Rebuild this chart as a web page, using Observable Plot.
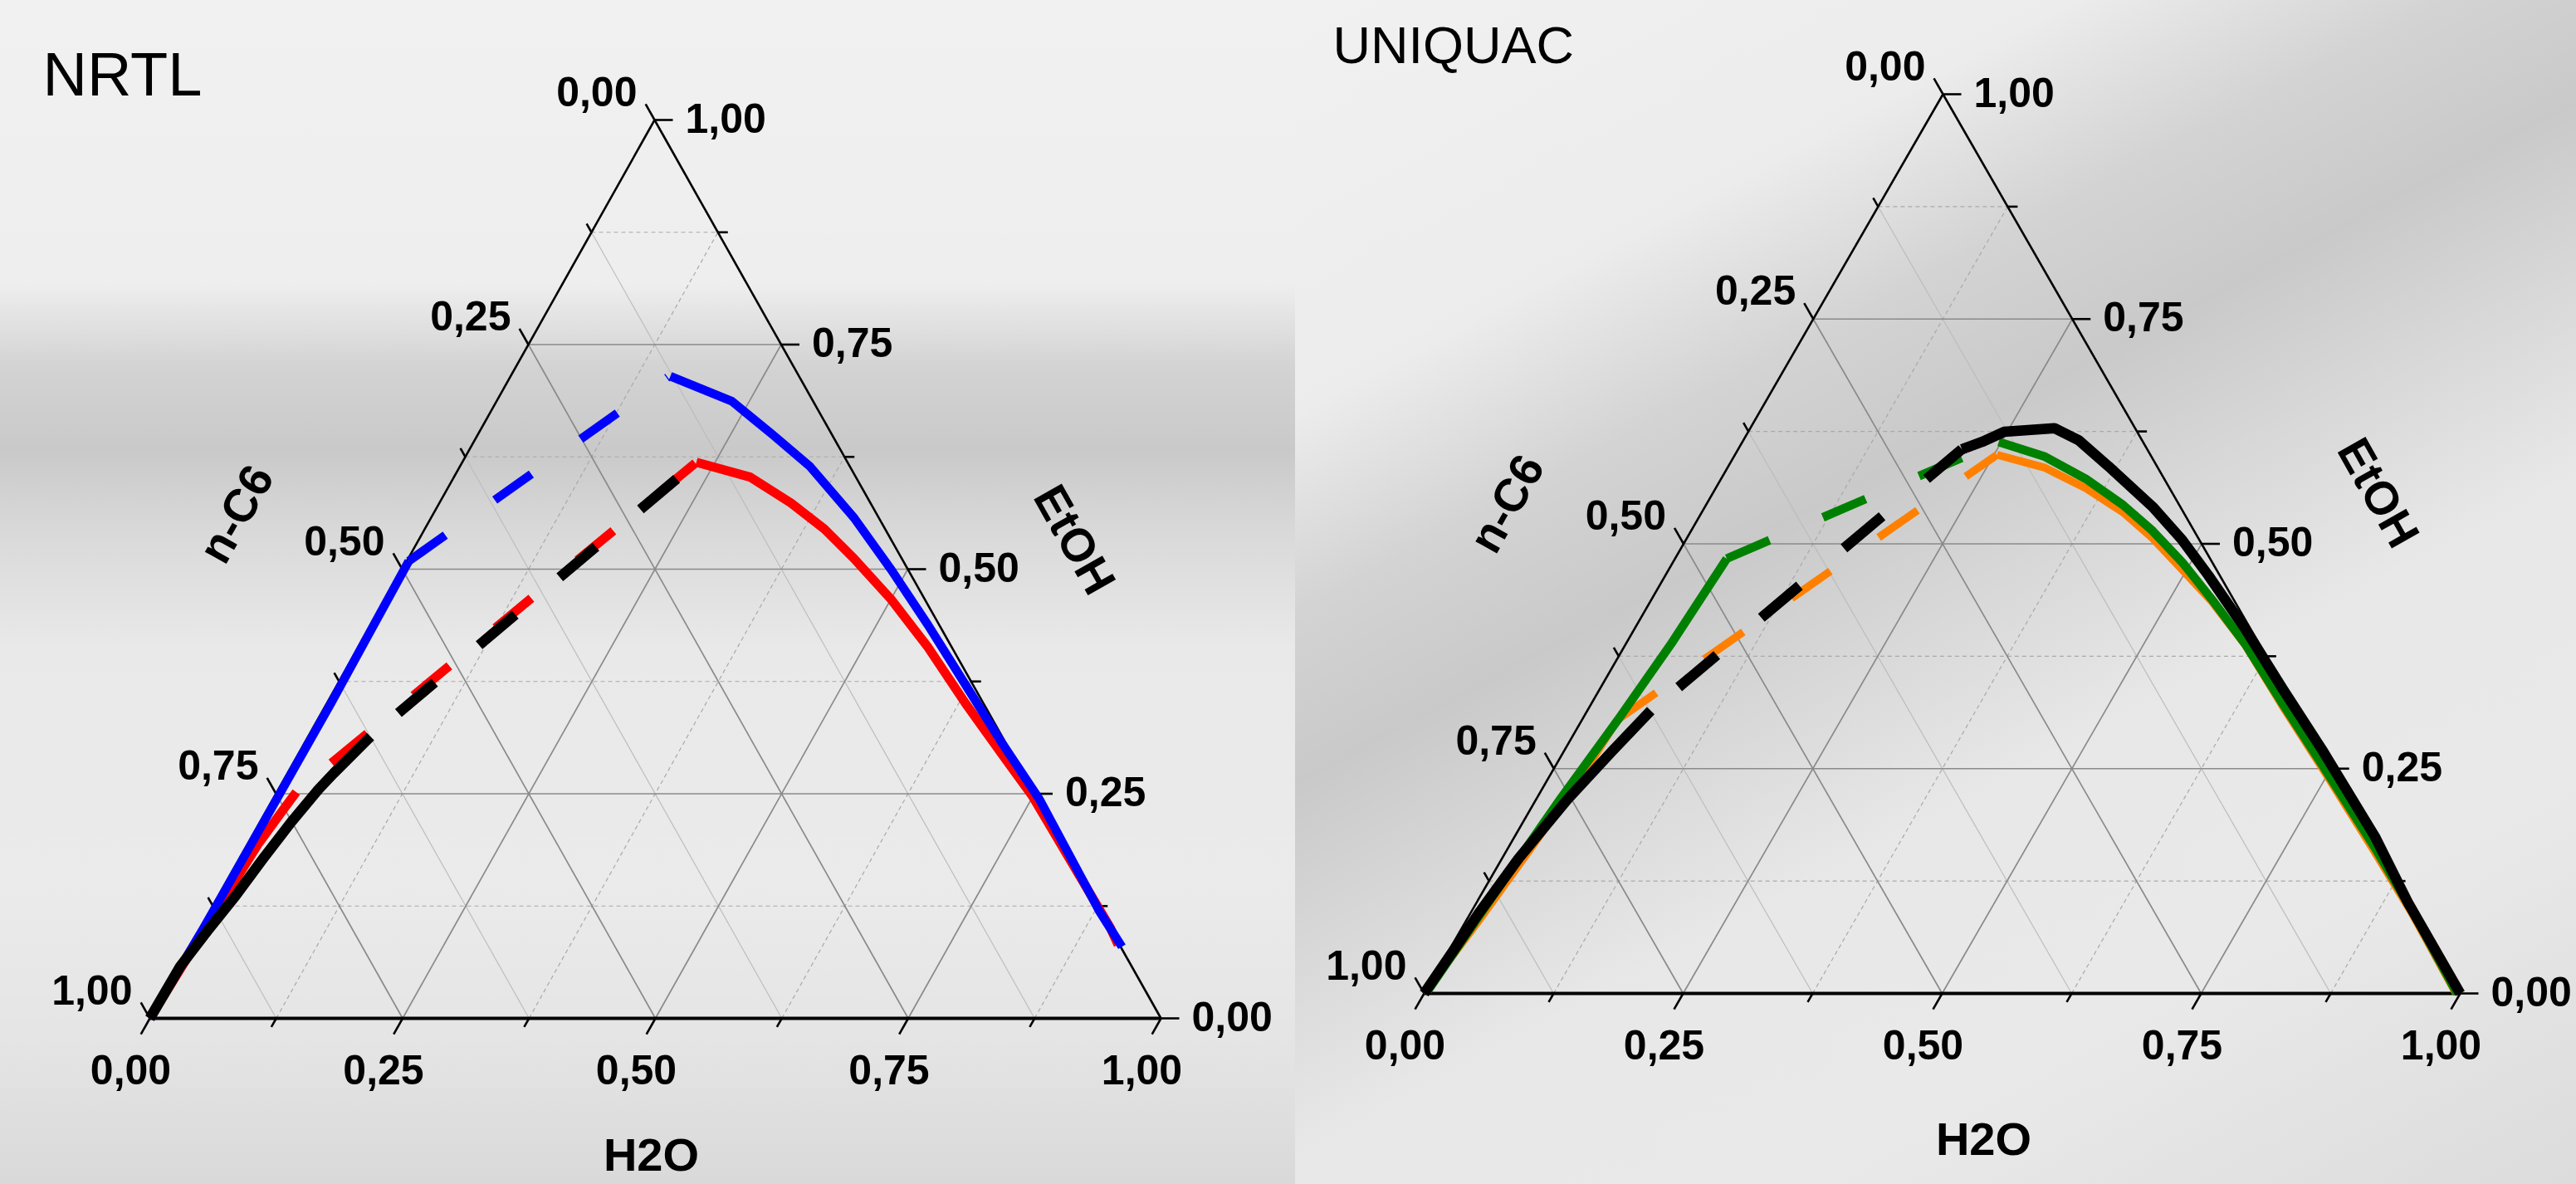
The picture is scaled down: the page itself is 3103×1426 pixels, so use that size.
<!DOCTYPE html>
<html>
<head>
<meta charset="utf-8">
<script src="https://cdn.jsdelivr.net/npm/d3@7"></script>
<script src="https://cdn.jsdelivr.net/npm/@observablehq/plot@0.6"></script>
<style>
html, body { margin: 0; padding: 0; width: 3103px; height: 1426px; overflow: hidden; }
body { position: relative; background: #e0e0e0; font-family: "Liberation Sans", Arial, sans-serif; }
.bg { position: absolute; pointer-events: none; }
#bgL { left: 0; top: 0; width: 1560px; height: 1426px;
  background: linear-gradient(to bottom, rgba(255,255,255,0.55) 0%, rgba(255,255,255,0.45) 24%, rgba(0,0,0,0.06) 31%, rgba(0,0,0,0.10) 38%, rgba(0,0,0,0.03) 45%, rgba(255,255,255,0.30) 55%, rgba(255,255,255,0.35) 75%, rgba(255,255,255,0.15) 88%, rgba(0,0,0,0.03) 100%); }
#bgR { left: 1560px; top: 0; width: 1543px; height: 1426px;
  background: linear-gradient(152deg, rgba(255,255,255,0.55) 0%, rgba(255,255,255,0.40) 22%, rgba(0,0,0,0.06) 33%, rgba(0,0,0,0.10) 42%, rgba(0,0,0,0.03) 52%, rgba(255,255,255,0.25) 62%, rgba(255,255,255,0.30) 78%, rgba(0,0,0,0.02) 100%); }
#left { position: absolute; left: 0; top: 0; }
#right { position: absolute; left: 1550px; top: 0; }
svg { overflow: visible; }
</style>
</head>
<body>
<div class="bg" id="bgL"></div>
<div class="bg" id="bgR"></div>
<div id="left"></div>
<div id="right"></div>
<script>
// ---------- axis values ----------
const TICKS = [0, 0.25, 0.5, 0.75, 1];
const MINOR_TICKS = [0.125, 0.375, 0.625, 0.875];
const MAJOR_GRID = [0.25, 0.5, 0.75];
const TICK_LABELS = ["0,00", "0,25", "0,50", "0,75", "1,00"];

// ---------- data: [H2O fraction, EtOH fraction]; n-C6 = 1 - H2O - EtOH ----------
// NRTL panel
const nrtlRedA = [[0, 0], [0.006, 0.12], [0.0102, 0.1934], [0.0152, 0.2274], [0.0191, 0.2518]];
const nrtlRedDash = [[0.0191, 0.2518], [0.2315, 0.619]];
const nrtlRedB = [[0.2315, 0.619], [0.293, 0.6025], [0.3478, 0.5736], [0.3952, 0.5447], [0.4411, 0.5117], [0.5003, 0.4664], [0.5638, 0.4127], [0.6315, 0.3508], [0.697, 0.2931], [0.749, 0.2477], [0.8994, 0.101], [0.9168, 0.0818]];
const nrtlBlueA = [[0, 0], [0.003, 0.1], [0.0035, 0.218], [0.004, 0.35], [0.002, 0.509]];
const nrtlBlueDash = [[0.002, 0.509], [0.156, 0.7135]];
const nrtlBlueB = [[0.158, 0.7147], [0.2324, 0.6871], [0.2913, 0.6499], [0.3454, 0.6149], [0.4184, 0.5571], [0.4839, 0.4994], [0.5515, 0.4374], [0.6212, 0.3714], [0.6908, 0.3055], [0.7584, 0.2435], [0.879, 0.1198], [0.9216, 0.0797]];
const nrtlBlackA = [[0, 0], [0.0012, 0.058], [0.0085, 0.098], [0.0167, 0.1365], [0.0233, 0.1781], [0.0307, 0.2181], [0.0396, 0.2551], [0.0455, 0.2724], [0.0616, 0.3137]];
const nrtlBlackDash = [[0.0616, 0.3137], [0.2219, 0.6017]];

// UNIQUAC panel
const uniOrangeA = [[0, 0], [0.012, 0.08], [0.022, 0.16], [0.0316, 0.2486], [0.0341, 0.3042]];
const uniOrangeDash = [[0.0341, 0.3042], [0.2529, 0.599]];
const uniOrangeB = [[0.2529, 0.599], [0.3066, 0.5846], [0.3573, 0.5619], [0.4066, 0.5351], [0.4496, 0.5062], [0.4958, 0.4712], [0.5421, 0.4358], [0.5985, 0.3875], [0.667, 0.321], [0.741, 0.251], [0.836, 0.16], [0.907, 0.091], [0.996, 0.0]];
const uniGreenA = [[0.002, 0.003], [0.01, 0.0886], [0.0231, 0.2156], [0.0349, 0.3063], [0.0437, 0.3887], [0.0499, 0.4836]];
const uniGreenDash = [[0.0499, 0.4836], [0.2474, 0.6134]];
const uniGreenB = [[0.2474, 0.6134], [0.3004, 0.5969], [0.3522, 0.5722], [0.4024, 0.5433], [0.4454, 0.5145], [0.4917, 0.4794], [0.5409, 0.4382], [0.5978, 0.3887], [0.6667, 0.3228], [0.7412, 0.2527], [0.8366, 0.162], [0.9075, 0.092], [0.997, 0.0]];
const uniBlackA = [[0, 0], [0.008, 0.0886], [0.016, 0.15], [0.0302, 0.2156], [0.0464, 0.2692], [0.0612, 0.3145]];
const uniBlackDash = [[0.0612, 0.3145], [0.2159, 0.6052]];
const uniBlackB = [[0.2159, 0.6052], [0.2313, 0.6134], [0.2472, 0.6246], [0.2935, 0.6286], [0.3234, 0.6154], [0.3664, 0.5866], [0.432, 0.5413], [0.4792, 0.5042], [0.524, 0.465], [0.5896, 0.4053], [0.6585, 0.3392], [0.7329, 0.2692], [0.8304, 0.1744], [0.8998, 0.1002], [1.0, 0.0]];

const FONT = "Liberation Sans, Arial, sans-serif";

function makePanel(o) {
  const a = o.apex, sx = o.sx, sy = o.sy;
  const X = d => d[0] + d[1] * a;
  const Y = d => d[1];
  const La = Math.hypot(a * sx, sy);
  const Lb = Math.hypot((1 - a) * sx, sy);

  const seg = (fam, v) => {
    if (fam === "e") return [[0, v], [1 - v, v]];
    if (fam === "w") return [[v, 0], [v, 1 - v]];
    return [[1 - v, 0], [0, 1 - v]];
  };
  const toLink = s => ({x1: X(s[0]), y1: Y(s[0]), x2: X(s[1]), y2: Y(s[1])});
  const minorDashed = [], minorSolid = [], major = [];
  for (const v of MINOR_TICKS) {
    minorDashed.push(toLink(seg("e", v)), toLink(seg("w", v)));
    minorSolid.push(toLink(seg("n", v)));
  }
  for (const v of MAJOR_GRID) for (const f of ["e", "w", "n"]) major.push(toLink(seg(f, v)));
  const sides = [toLink([[0, 0], [0, 1]]), toLink([[1, 0], [0, 1]])];
  const bottom = [toLink([[0, 0], [1, 0]])];

  const ticks = [];
  const addTicks = (vals, len) => {
    for (const v of vals) {
      ticks.push({x1: v, y1: 0, x2: v - len * a / La, y2: -len / La});
      const e = 1 - v;
      ticks.push({x1: e * a, y1: e, x2: e * a - len * (1 - a) / Lb, y2: e + len / Lb});
      const xr = 1 - v + v * a;
      ticks.push({x1: xr, y1: v, x2: xr + len / sx, y2: v});
    }
  };
  addTicks(TICKS, 22);
  addTicks(MINOR_TICKS, 12);

  const bottomLabels = TICKS.map((v, i) => ({x: v, y: 0, t: TICK_LABELS[i]}));
  const leftLabels = TICKS.map((v, i) => ({x: (1 - v) * a, y: 1 - v, t: TICK_LABELS[i]}));
  const rightLabels = TICKS.map((v, i) => ({x: 1 - v + v * a, y: v, t: TICK_LABELS[i]}));

  const marks = [
    Plot.link(minorSolid, {x1: "x1", y1: "y1", x2: "x2", y2: "y2", stroke: "#bdbdbd", strokeWidth: 1.2}),
    Plot.link(minorDashed, {x1: "x1", y1: "y1", x2: "x2", y2: "y2", stroke: "#a9a9a9", strokeWidth: 1.2, strokeDasharray: "5,4"}),
    Plot.link(major, {x1: "x1", y1: "y1", x2: "x2", y2: "y2", stroke: "#8a8a8a", strokeWidth: 1.7}),
    Plot.link(sides, {x1: "x1", y1: "y1", x2: "x2", y2: "y2", stroke: "#000", strokeWidth: 2.6}),
    Plot.link(bottom, {x1: "x1", y1: "y1", x2: "x2", y2: "y2", stroke: "#000", strokeWidth: 4}),
    Plot.link(ticks, {x1: "x1", y1: "y1", x2: "x2", y2: "y2", stroke: "#000", strokeWidth: 2.6})
  ];

  for (const s of o.series) {
    marks.push(Plot.line(s.data, {
      x: X, y: Y, stroke: s.color, strokeWidth: s.width,
      strokeLinecap: "butt", strokeLinejoin: s.dash ? "miter" : "round",
      strokeDasharray: s.dash || null, strokeDashoffset: s.offset || 0, curve: "linear"
    }));
  }

  const lab = {fontFamily: FONT, fontWeight: "bold", fontSize: 50, fill: "#000", lineAnchor: "middle"};
  marks.push(
    Plot.text(bottomLabels, {x: "x", y: "y", text: "t", dx: -23, dy: 63, textAnchor: "middle", ...lab}),
    Plot.text(leftLabels, {x: "x", y: "y", text: "t", dx: -21, dy: -33, textAnchor: "end", ...lab}),
    Plot.text(rightLabels, {x: "x", y: "y", text: "t", dx: 37, dy: -1, textAnchor: "start", ...lab})
  );

  const ax = {fontFamily: FONT, fontWeight: "bold", fontSize: 56, fill: "#000", lineAnchor: "middle", textAnchor: "middle"};
  marks.push(
    Plot.text([{x: 0.5 * a, y: 0.5}], {x: "x", y: "y", text: () => "n-C6", dx: o.nc6[0], dy: o.nc6[1], rotate: -60.7, ...ax}),
    Plot.text([{x: 0.5 + 0.5 * a, y: 0.5}], {x: "x", y: "y", text: () => "EtOH", dx: o.etoh[0], dy: o.etoh[1], rotate: 60.6, ...ax}),
    Plot.text([{x: 0.5, y: 0}], {x: "x", y: "y", text: () => "H2O", dx: o.h2o[0], dy: o.h2o[1], ...ax}),
    Plot.text([{x: a, y: 1}], {x: "x", y: "y", text: () => o.title, dx: o.titlePos[0], dy: o.titlePos[1],
      fontFamily: FONT, fontWeight: "normal", fontSize: o.titleSize, fill: "#000", lineAnchor: "middle", textAnchor: "start"})
  );

  return Plot.plot({
    width: o.width, height: o.height,
    marginLeft: o.mL, marginRight: o.mR, marginTop: o.mT, marginBottom: o.mB,
    x: {domain: [0, 1], axis: null},
    y: {domain: [0, 1], axis: null},
    style: {background: "transparent", overflow: "visible"},
    marks
  });
}

const nrtlPanel = makePanel({
  width: 1550, height: 1426, mL: 180, mR: 152, mT: 144, mB: 200,
  apex: 608 / 1218, sx: 1218, sy: 1082,
  title: "NRTL", titleSize: 74, titlePos: [-737, -53],
  nc6: [-199, -66], etoh: [200, -35], h2o: [-5, 166],
  series: [
    {data: nrtlRedA, color: "#ff0000", width: 11},
    {data: nrtlRedDash, color: "#ff0000", width: 11, dash: "56,72", offset: 73},
    {data: nrtlRedB, color: "#ff0000", width: 11},
    {data: nrtlBlueA, color: "#0000ff", width: 10.5},
    {data: nrtlBlueDash, color: "#0000ff", width: 10.5, dash: "54,73", offset: 0},
    {data: nrtlBlueB, color: "#0000ff", width: 10.5},
    {data: nrtlBlackA, color: "#000000", width: 12.5},
    {data: nrtlBlackDash, color: "#000000", width: 12.5, dash: "57,70", offset: 83}
  ]
});

const uniPanel = makePanel({
  width: 1553, height: 1426, mL: 165, mR: 140, mT: 113, mB: 230,
  apex: 625 / 1248, sx: 1248, sy: 1083,
  title: "UNIQUAC", titleSize: 63, titlePos: [-735, -58],
  nc6: [-212, -48], etoh: [212, -61], h2o: [50, 177],
  series: [
    {data: uniOrangeA, color: "#ff8000", width: 9.5},
    {data: uniOrangeDash, color: "#ff8000", width: 9.5, dash: "57,71", offset: 0},
    {data: uniOrangeB, color: "#ff8000", width: 9.5},
    {data: uniGreenA, color: "#008000", width: 10.5},
    {data: uniGreenDash, color: "#008000", width: 10.5, dash: "56,70", offset: 0},
    {data: uniGreenB, color: "#008000", width: 10.5},
    {data: uniBlackA, color: "#000000", width: 12.5},
    {data: uniBlackDash, color: "#000000", width: 12.5, dash: "60,70", offset: 86},
    {data: uniBlackB, color: "#000000", width: 12.5}
  ]
});

document.getElementById("left").appendChild(nrtlPanel);
document.getElementById("right").appendChild(uniPanel);
</script>
</body>
</html>
